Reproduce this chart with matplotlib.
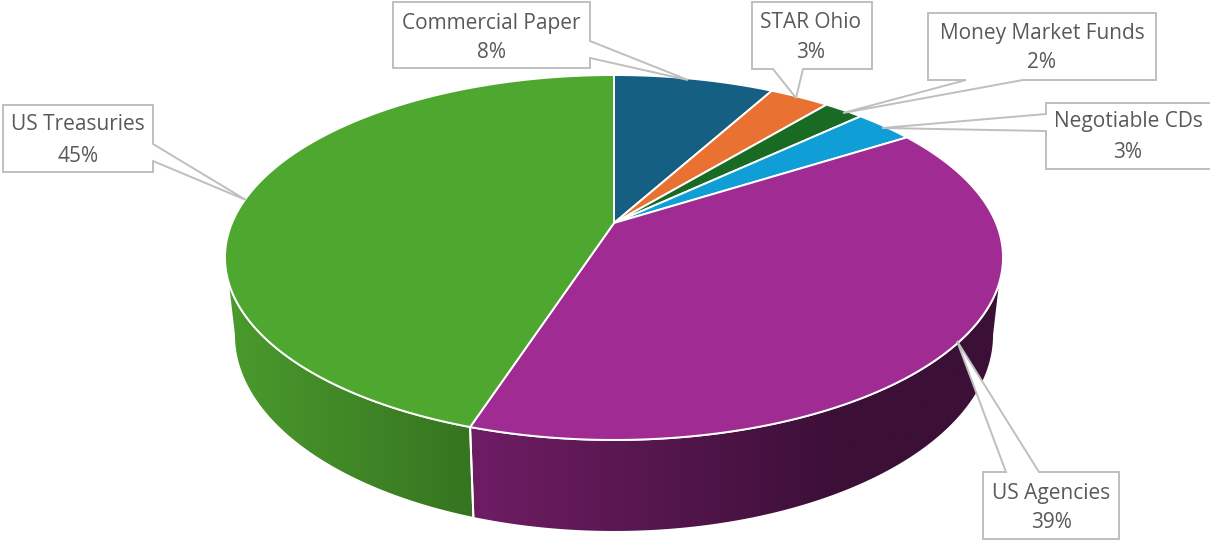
#!/usr/bin/env python3
"""Portfolio allocation drawn as a tilted 3D pie with callout labels."""

import numpy as np
import matplotlib
matplotlib.use("Agg")
import matplotlib.pyplot as plt
from matplotlib.colors import LinearSegmentedColormap
from matplotlib.patches import Polygon

categories = ["Commercial Paper", "STAR Ohio", "Money Market Funds",
              "Negotiable CDs", "US Agencies", "US Treasuries"]
shares = [8, 3, 2, 3, 39, 45]
slice_colors = ["#156082", "#E97132", "#196B24", "#0F9ED5", "#A02B93", "#4EA72E"]

# Perspective of the pie on the page (pixels)
CX, APEX_Y = 614.0, 223.0
C = 0.189
D = 382.0
B = -133.8
TANGENT = np.arccos(-C)

# Lower rim is the top ellipse moved and stretched
TOP_MID_Y, TOP_RX, TOP_RY = 257.5, 389.0, 182.5
LOW_MID_Y, LOW_RX, LOW_RY = 335.0, 380.0, 197.0

FONT_SIZE = 15
LABEL_COLOR = "#595959"
BOX_EDGE = "#BFBFBF"


def top_rim(theta):
    """Project clockwise angles (0 = far side) on to the top face."""
    u, v = np.sin(theta), np.cos(theta)
    w = 1 + C * v
    return CX + D * u / w, (APEX_Y + B * v) / w


def bottom_rim(theta):
    x, y = top_rim(theta)
    return (CX + LOW_RX / TOP_RX * (x - CX),
            LOW_MID_Y + LOW_RY / TOP_RY * (y - TOP_MID_Y))


def arc(func, start, end):
    n = max(int(abs(end - start) * 120), 4)
    x, y = func(np.linspace(start, end, n))
    return np.column_stack([x, y])


def draw_wall(ax, start, end, left_color, right_color, x_from, x_to):
    """Outer wall between two angles, shaded from left to right."""
    pts = np.vstack([arc(top_rim, start, end), arc(bottom_rim, end, start)])
    x0, x1 = pts[:, 0].min() - 2, pts[:, 0].max() + 2
    xs = np.linspace(x0, x1, 512)
    grad = np.clip((xs - x_from) / (x_to - x_from), 0, 1).reshape(1, -1)
    cmap = LinearSegmentedColormap.from_list("wall", [left_color, right_color])
    im = ax.imshow(grad, cmap=cmap, vmin=0, vmax=1, extent=(x0, x1, 540, 0),
                   aspect="auto", zorder=2, interpolation="bilinear")
    edge = Polygon(pts, closed=True, facecolor="none", edgecolor="white",
                   linewidth=1.4, zorder=3)
    ax.add_patch(edge)
    im.set_clip_path(edge)


def callout(ax, outline, center_x, y_name, y_pct, name, pct):
    ax.add_patch(Polygon(outline, closed=True, facecolor="white", edgecolor=BOX_EDGE,
                         linewidth=1.4, joinstyle="miter", zorder=6))
    ax.text(center_x, y_name, name, ha="center", va="center", fontsize=FONT_SIZE,
            color=LABEL_COLOR, zorder=7)
    ax.text(center_x, y_pct, f"{pct}%", ha="center", va="center", fontsize=FONT_SIZE,
            color=LABEL_COLOR, zorder=7)


plt.rcParams["font.family"] = ["Open Sans", "DejaVu Sans"]

fig = plt.figure(figsize=(12.1, 5.4), dpi=100)
ax = fig.add_axes([0, 0, 1, 1])

edges = 2 * np.pi * np.concatenate([[0], np.cumsum(shares)]) / sum(shares)

# Only the near side of the wall shows: agencies and treasuries
draw_wall(ax, TANGENT, edges[5], "#6C1C62", "#3C0F37", 490, 840)
draw_wall(ax, edges[5], 2 * np.pi - TANGENT, "#4A9A2D", "#35721F", 230, 485)

# Top face slices
for i, color in enumerate(slice_colors):
    rim = arc(top_rim, edges[i], edges[i + 1])
    pts = np.vstack([[CX, APEX_Y], rim])
    ax.add_patch(Polygon(pts, closed=True, facecolor=color, edgecolor="white",
                         linewidth=1.4, joinstyle="round", zorder=4))

# Callouts, each outline includes its pointer
callout(ax, [(393, 2), (590, 2), (590, 41), (688, 80), (590, 58), (590, 68), (393, 68)],
        491, 23, 52, categories[0], shares[0])
callout(ax, [(752, 2), (872, 2), (872, 69), (803, 69), (796, 98), (773, 69), (752, 69)],
        811, 23, 52, categories[1], shares[1])
callout(ax, [(928, 13), (1156, 13), (1156, 80), (1023, 80), (843, 113), (966, 80), (928, 80)],
        1042, 33, 63, categories[2], shares[2])
callout(ax, [(1046, 103), (1230, 103), (1230, 169), (1046, 169), (1046, 131), (882, 128), (1046, 114)],
        1128, 122, 152, categories[3], shares[3])
callout(ax, [(983, 472), (1006, 472), (957, 341), (1039, 472), (1119, 472), (1119, 539), (983, 539)],
        1051, 493, 523, categories[4], shares[4])
callout(ax, [(3, 105), (153, 105), (153, 144), (246, 200), (153, 161), (153, 172), (3, 172)],
        78, 125, 156, categories[5], shares[5])

ax.set_xlim(0, 1210)
ax.set_ylim(540, 0)
ax.axis("off")

fig.savefig("out.png", dpi=100, facecolor="white")
